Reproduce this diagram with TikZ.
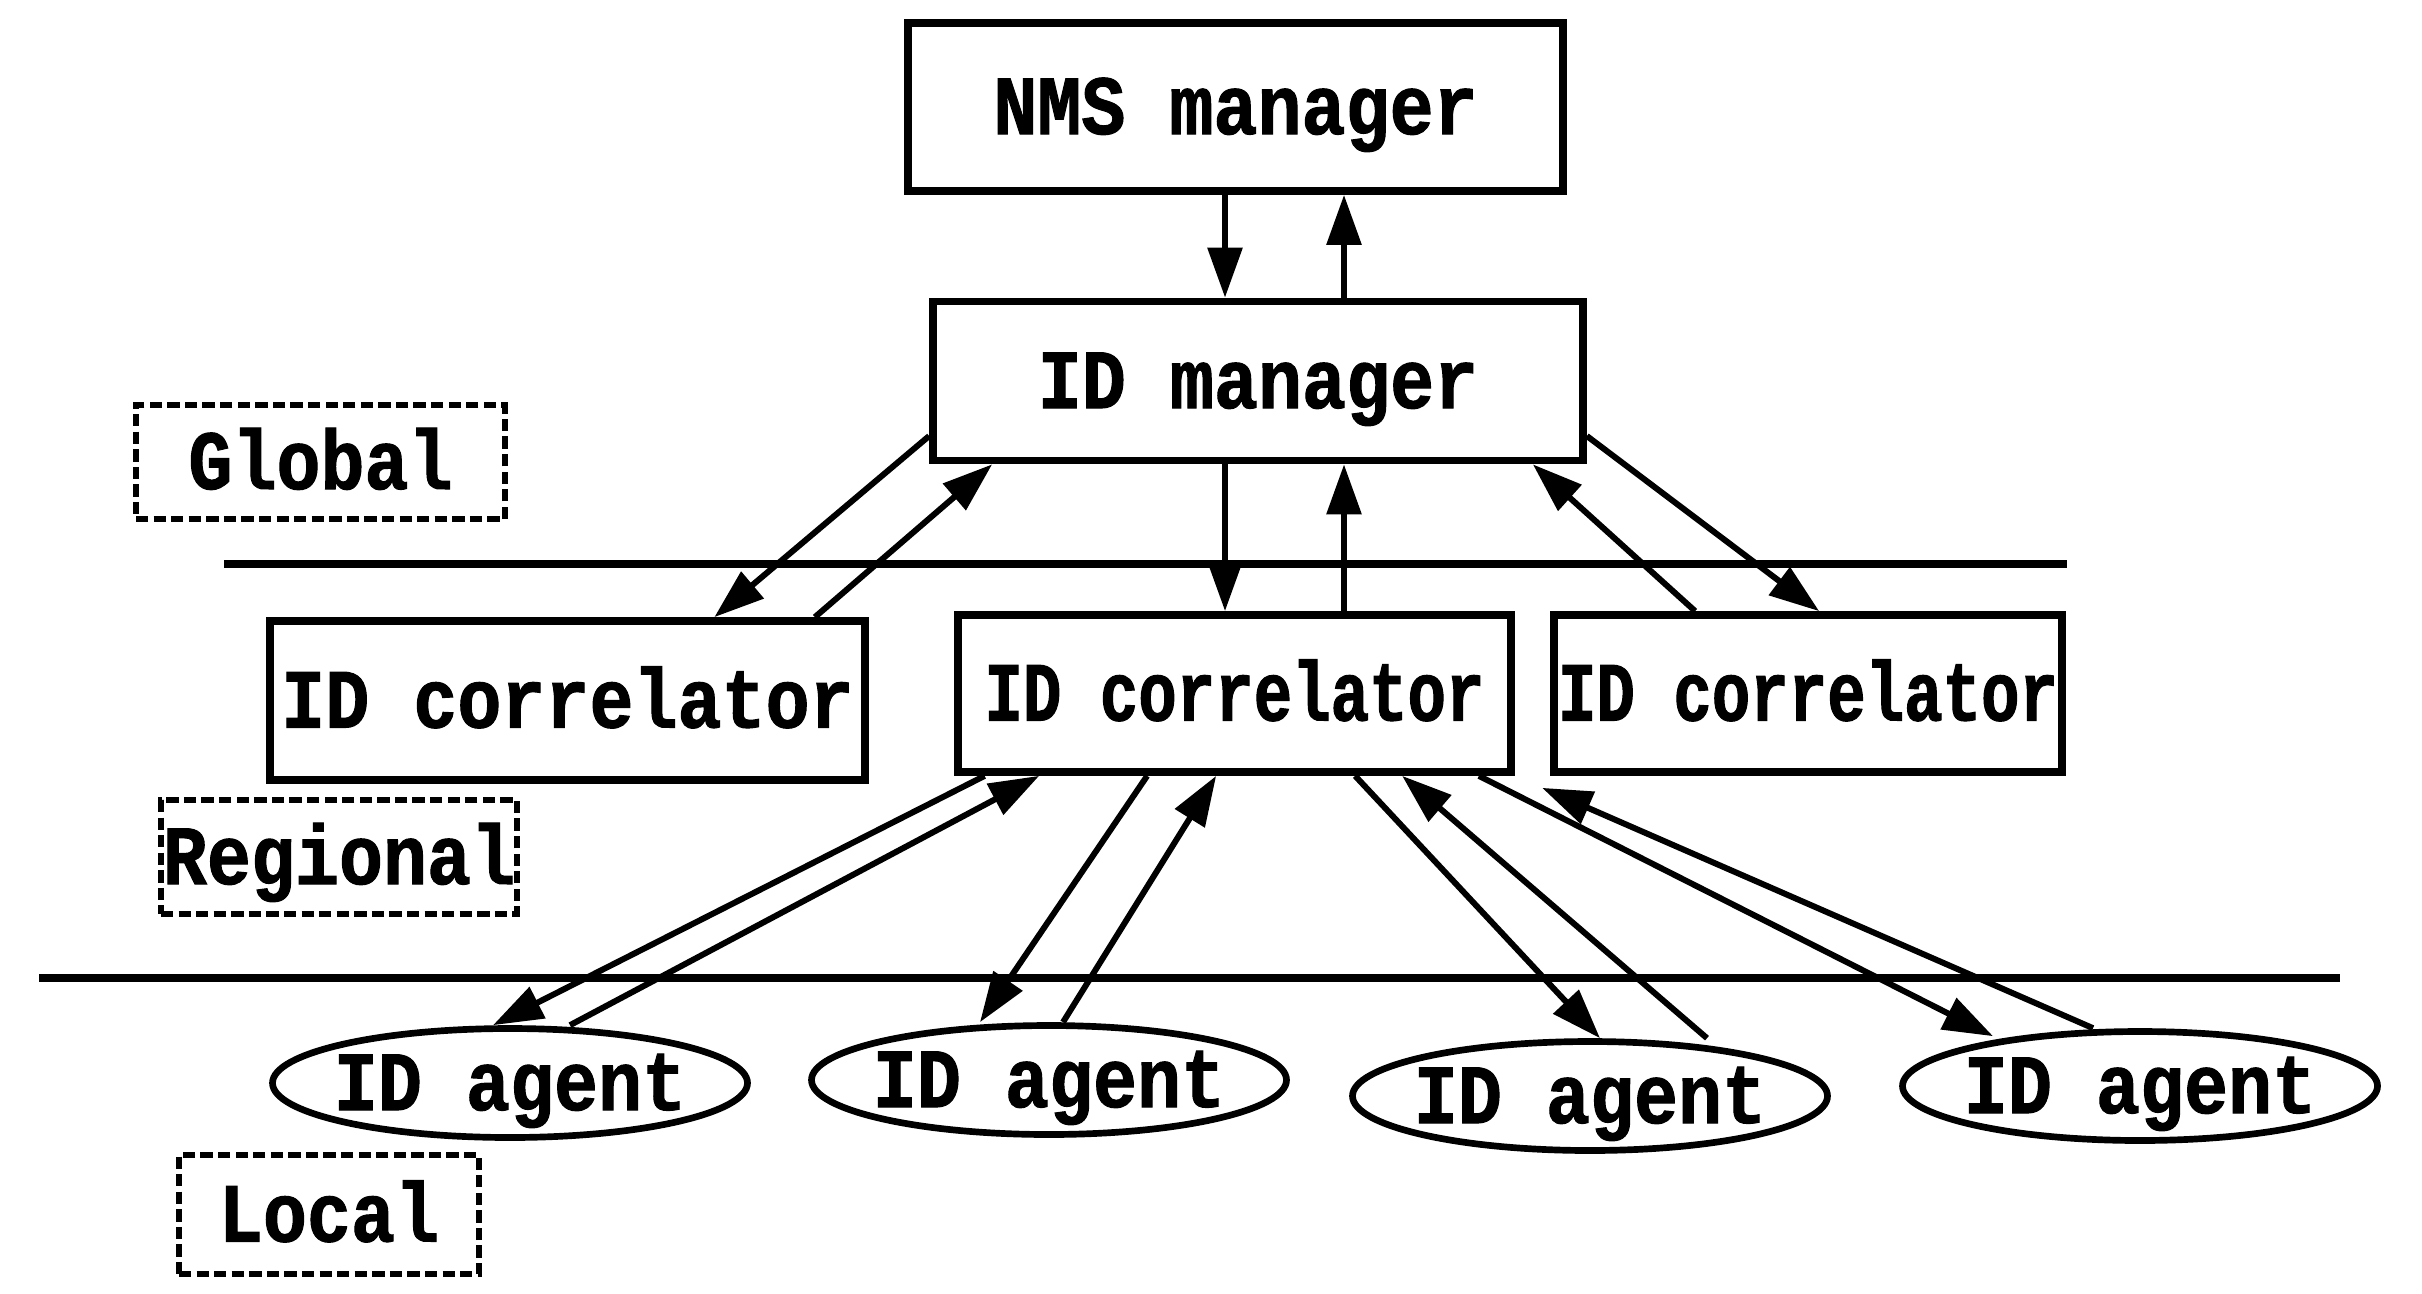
\documentclass[tikz,border=0pt]{standalone}
\usepackage{fontspec}
\usetikzlibrary{arrows.meta,shapes.geometric}
\newfontfamily\lblfont{Liberation Mono}[FakeStretch=0.87,FakeBold=1.2]
\newfontfamily\lblnarrow{Liberation Mono}[FakeStretch=0.76,FakeBold=1.2]
\begin{document}
\begin{tikzpicture}[x=1cm,y=1cm]
\useasboundingbox (0,0) rectangle (24.22,-12.93);
\tikzset{
  lbl/.style={font=\lblfont\bfseries\fontsize{24}{28}\selectfont, text height=15.4pt, text depth=0pt},
  box/.style={draw, line width=2.2pt, inner sep=0pt, lbl},
  tag/.style={draw, line width=1.6pt, dash pattern=on 3.5pt off 1.5pt, inner sep=0pt, lbl},
  agent/.style={draw, ellipse, line width=1.9pt, inner sep=0pt, minimum width=4.75cm, minimum height=1.09cm},
  arr/.style={line width=1.7pt, -{Triangle[length=0.5cm,width=0.34cm]}},
  sep/.style={line width=2.2pt}
}
% boxes
\node[box, minimum width=6.55cm, minimum height=1.68cm] (nms) at (12.355,-1.07) {NMS manager};
\node[box, minimum width=6.50cm, minimum height=1.59cm] (idm) at (12.58,-3.81) {ID manager};
\node[box, minimum width=5.95cm, minimum height=1.59cm] (lc) at (5.675,-7.005) {ID correlator};
\node[box, minimum width=5.53cm, minimum height=1.57cm, font=\lblnarrow\bfseries\fontsize{24}{28}\selectfont] (mc) at (12.345,-6.935) {ID correlator};
\node[box, minimum width=5.08cm, minimum height=1.57cm, font=\lblnarrow\bfseries\fontsize{24}{28}\selectfont] (rc) at (18.08,-6.935) {ID correlator};
% level tags
\node[tag, minimum width=3.69cm, minimum height=1.14cm] (tglobal) at (3.205,-4.62) {Global};
\node[tag, minimum width=3.56cm, minimum height=1.14cm] (tregional) at (3.39,-8.57) {Regional};
\node[tag, minimum width=3.0cm, minimum height=1.19cm] (tlocal) at (3.29,-12.145) {Local};
% agents
\node[agent, label={[lbl]center:ID agent}] (a1) at (5.10,-10.83) {};
\node[agent, label={[lbl]center:ID agent}] (a2) at (10.49,-10.80) {};
\node[agent, label={[lbl]center:ID agent}] (a3) at (15.90,-10.96) {};
\node[agent, label={[lbl]center:ID agent}] (a4) at (21.40,-10.86) {};
% separators
\coordinate (s1a) at (2.24,-5.64);
\coordinate (s1b) at (20.67,-5.64);
\coordinate (s2a) at (0.39,-9.78);
\coordinate (s2b) at (23.40,-9.78);
\draw[sep] (s1a) -- (s1b);
\draw[sep] (s2a) -- (s2b);
% NMS <-> ID manager
\draw[arr] ([xshift=-0.105cm]nms.south) -- ([xshift=-0.105cm]nms.south |- idm.north);
\draw[arr] ([xshift=1.085cm]nms.south |- idm.north) -- ([xshift=1.085cm]nms.south);
% ID manager <-> correlators
\draw[arr] ([yshift=-0.55cm]idm.west) -- ([xshift=-1.545cm]lc.north east);
\draw[arr] ([xshift=-0.54cm]lc.north east) -- ([xshift=0.63cm]idm.south west);
\draw[arr] ([xshift=-0.33cm]idm.south) -- ([xshift=-0.33cm]idm.south |- mc.north);
\draw[arr] ([xshift=0.86cm]idm.south |- mc.north) -- ([xshift=0.86cm]idm.south);
\draw[arr] ([yshift=-0.55cm]idm.east) -- ([xshift=2.69cm]rc.north west);
\draw[arr] ([xshift=1.45cm]rc.north west) -- ([xshift=-0.54cm]idm.south east);
% middle correlator <-> agents
\draw[arr] ([xshift=0.305cm]mc.south west) -- ([xshift=-0.17cm]a1.north);
\draw[arr] ([xshift=0.60cm]a1.north) -- ([xshift=0.85cm]mc.south west);
\draw[arr] ([xshift=1.93cm]mc.south west) -- ([xshift=-0.69cm]a2.north);
\draw[arr] ([xshift=0.14cm]a2.north) -- ([xshift=2.62cm]mc.south west);
\draw[arr] ([xshift=4.01cm]mc.south west) -- ([xshift=0.10cm]a3.north);
\draw[arr] ([xshift=1.17cm]a3.north) -- ([xshift=4.48cm]mc.south west);
\draw[arr] ([xshift=-0.36cm]mc.south east) -- ([xshift=-1.47cm,yshift=-0.08cm]a4.north);
\draw[arr] ([xshift=-0.47cm]a4.north) -- ([xshift=-0.08cm,yshift=-0.12cm]rc.south west);
\end{tikzpicture}
\end{document}
